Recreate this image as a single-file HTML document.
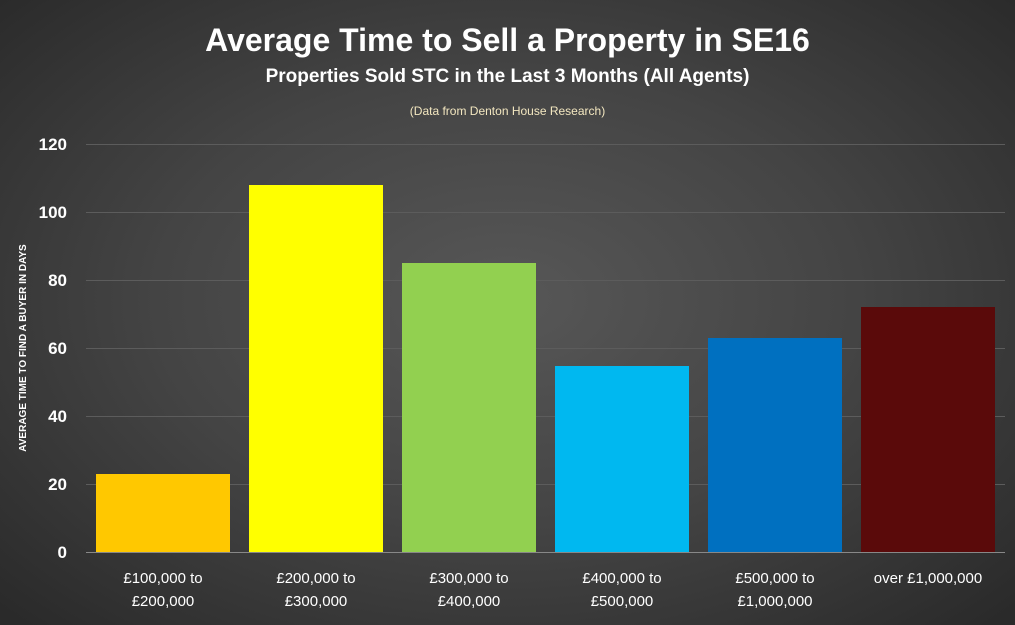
<!DOCTYPE html>
<html><head><meta charset="utf-8"><style>
html,body{margin:0;padding:0;width:1015px;height:625px;overflow:hidden}
body{background:radial-gradient(ellipse 700px 450px at 507px 300px,#575757 0%,#444 50%,#2a2a2a 100%);font-family:"Liberation Sans",sans-serif;position:relative}
.t{position:absolute;left:0;width:1015px;text-align:center;color:#fff;font-weight:bold}
</style></head><body>
<div class="t" style="top:22px;font-size:32px">Average Time to Sell a Property in SE16</div>
<div class="t" style="top:66px;font-size:19px">Properties Sold STC in the Last 3 Months (All Agents)</div>
<div class="t" style="top:104px;font-size:12px;font-weight:normal;color:#f3e7c0">(Data from Denton House Research)</div>
<svg width="1015" height="625" style="position:absolute;left:0;top:0" font-family="Liberation Sans, sans-serif">
<g stroke="#5c5c5c" stroke-width="1">
<line x1="86" x2="1005" y1="144.5" y2="144.5"/><line x1="86" x2="1005" y1="212.5" y2="212.5"/><line x1="86" x2="1005" y1="280.5" y2="280.5"/><line x1="86" x2="1005" y1="348.5" y2="348.5"/><line x1="86" x2="1005" y1="416.5" y2="416.5"/><line x1="86" x2="1005" y1="484.5" y2="484.5"/>
</g>
<g fill="#fff" font-size="17" font-weight="bold" text-anchor="end">
<text x="67" y="150">120</text><text x="67" y="218">100</text><text x="67" y="286">80</text><text x="67" y="354">60</text><text x="67" y="422">40</text><text x="67" y="490">20</text><text x="67" y="558">0</text>
</g>
<text transform="translate(26,348) rotate(-90)" fill="#fff" font-size="10" font-weight="bold" text-anchor="middle">AVERAGE TIME TO FIND A BUYER IN DAYS</text>
<rect x="96" y="474" width="134" height="78" fill="#ffc800"/>
<rect x="249" y="185" width="134" height="367" fill="#ffff00"/>
<rect x="402" y="263" width="134" height="289" fill="#92d050"/>
<rect x="555" y="366" width="134" height="186" fill="#00b8f0"/>
<rect x="708" y="338" width="134" height="214" fill="#0070c0"/>
<rect x="861" y="307" width="134" height="245" fill="#5a0a0a"/>
<line x1="86" x2="1005" y1="552.5" y2="552.5" stroke="#888"/>
<g fill="#fff" font-size="15" text-anchor="middle">
<text x="163" y="583">£100,000 to</text><text x="163" y="606">£200,000</text>
<text x="316" y="583">£200,000 to</text><text x="316" y="606">£300,000</text>
<text x="469" y="583">£300,000 to</text><text x="469" y="606">£400,000</text>
<text x="622" y="583">£400,000 to</text><text x="622" y="606">£500,000</text>
<text x="775" y="583">£500,000 to</text><text x="775" y="606">£1,000,000</text>
<text x="928" y="583">over £1,000,000</text>
</g>
</svg>
</body></html>
